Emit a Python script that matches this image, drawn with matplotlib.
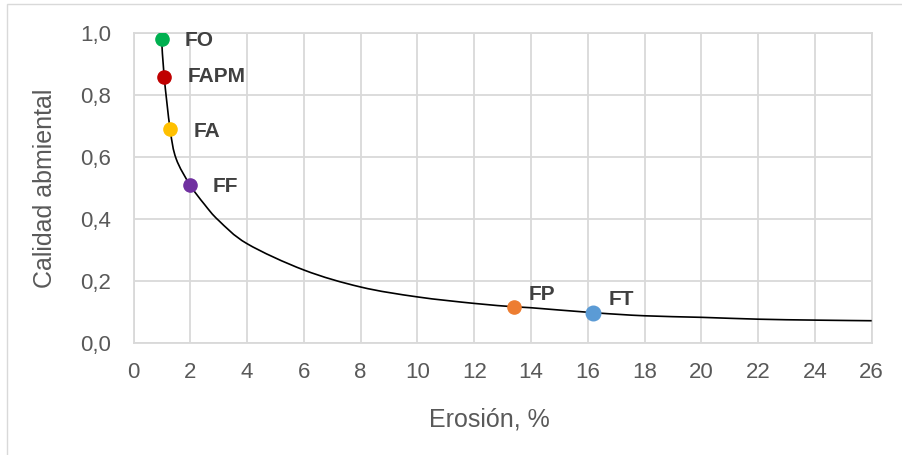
import matplotlib
matplotlib.use("Agg")
import matplotlib.pyplot as plt
from matplotlib.path import Path
from matplotlib.patches import PathPatch, Rectangle
import numpy as np

plt.rcParams['font.family'] = ['Liberation Sans', 'DejaVu Sans']

# Forest types: erosion (%) vs environmental quality
labels = ["FO", "FAPM", "FA", "FF", "FP", "FT"]
erosion = [0.99, 1.08, 1.29, 1.99, 13.41, 16.20]
quality = [0.981, 0.860, 0.690, 0.510, 0.116, 0.097]
colors = ["#00b050", "#c00000", "#ffc000", "#7030a0", "#ed7d31", "#5b9bd5"]
sizes = [9.5, 9.5, 9.5, 9.5, 9.5, 10.5]
label_offsets = [(23, -1), (23, 0), (23, -2), (23, -2), (14, 12), (15, 13)]

# Trend curve read along its length
curve_x = [0.99, 1.08, 1.29, 1.5, 1.99, 2.5, 3.0, 4.0, 6.0, 8.0,
           10.0, 12.0, 13.41, 14.0, 16.2, 18.0, 20.0, 22.0, 24.0, 26.0]
curve_y = [0.981, 0.860, 0.690, 0.595, 0.510, 0.447, 0.395, 0.320,
           0.235, 0.180, 0.148, 0.127, 0.116, 0.113, 0.097, 0.087,
           0.082, 0.076, 0.073, 0.071]

x_ticks = list(range(0, 27, 2))
y_ticks = [0.0, 0.2, 0.4, 0.6, 0.8, 1.0]

W, H = 902, 455
fig = plt.figure(figsize=(W / 100, H / 100), dpi=100)
left, right, top, bottom = 133.5, 871.7, 33.3, 342.7
ax = fig.add_axes([left / W, (H - bottom) / H, (right - left) / W, (bottom - top) / H])

# chart border
fig.patches.append(Rectangle((7 / W, -0.1), 1.2, (H - 4.3) / H + 0.1,
                             transform=fig.transFigure, fill=False,
                             edgecolor="#d9d9d9", lw=1.0))

grid_c = "#d9d9d9"
ax.set_xlim(0, 26)
ax.set_ylim(0, 1.0)
ax.set_xticks(x_ticks)
ax.set_yticks(y_ticks)
ax.set_xticklabels([str(t) for t in x_ticks])
ax.set_yticklabels([f"{t:.1f}".replace(".", ",") for t in y_ticks])
ax.grid(True, color=grid_c, lw=1.3)
ax.set_axisbelow(True)
for s in ["top", "right", "left", "bottom"]:
    ax.spines[s].set_color(grid_c)
    ax.spines[s].set_linewidth(1.3)
ax.tick_params(length=0, labelsize=16, colors="#595959")
ax.tick_params(axis="y", pad=16)
ax.tick_params(axis="x", pad=14)

# smooth curve (Catmull-Rom as cubic Bezier segments)
P = np.column_stack([curve_x, curve_y])
verts = [tuple(P[0])]
codes = [Path.MOVETO]
n = len(P)
for i in range(n - 1):
    p0 = P[i - 1] if i > 0 else P[i]
    p1, p2 = P[i], P[i + 1]
    p3 = P[i + 2] if i + 2 < n else P[i + 1]
    c1 = p1 + (p2 - p0) / 6.0
    c2 = p2 - (p3 - p1) / 6.0
    verts += [tuple(c1), tuple(c2), tuple(p2)]
    codes += [Path.CURVE4] * 3
ax.add_patch(PathPatch(Path(verts, codes), fill=False, edgecolor="black", lw=1.2, zorder=3))

for lab, xv, yv, c, ms, off in zip(labels, erosion, quality, colors, sizes, label_offsets):
    ax.plot([xv], [yv], "o", color=c, ms=ms, mec=c, zorder=4)
    ax.annotate(lab, (xv, yv), xytext=off, textcoords="offset pixels",
                ha="left", va="center", fontsize=15, fontweight="bold",
                color="#404040", zorder=5)

ax.set_xlabel("Erosión, %", fontsize=18, color="#595959")
ax.set_ylabel("Calidad abmiental", fontsize=18, color="#595959")
ax.xaxis.set_label_coords((489.5 - left) / (right - left), (bottom - 420) / (bottom - top))
ax.yaxis.set_label_coords((45 - left) / (right - left), 0.5)
ax.xaxis.label.set_va("center")
ax.yaxis.label.set_va("center")

fig.savefig("out.png", dpi=100)
